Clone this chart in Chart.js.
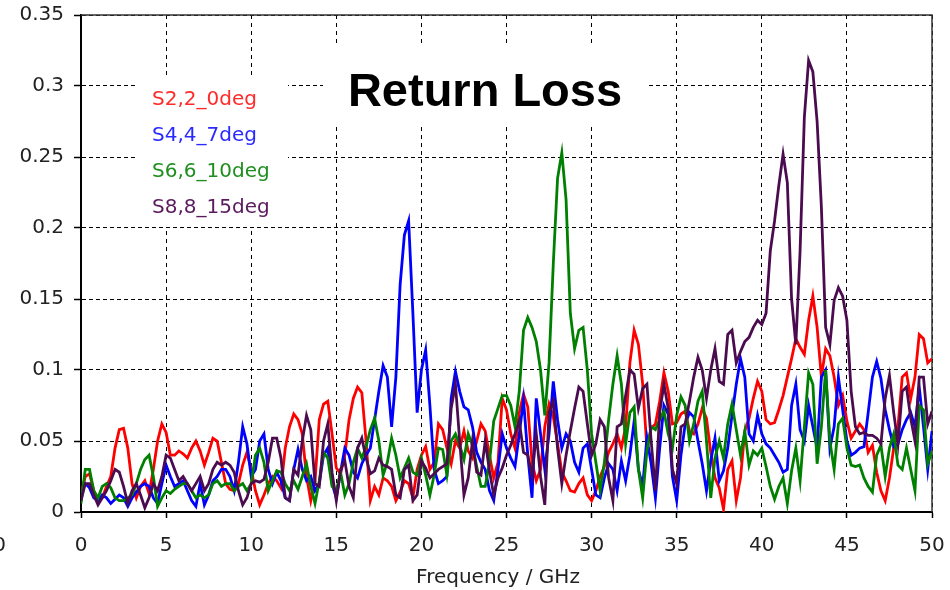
<!DOCTYPE html>
<html>
<head>
<meta charset="utf-8">
<script src="https://cdn.jsdelivr.net/npm/chart.js@4"></script>
<style>
  html, body { margin: 0; padding: 0; background: #ffffff; }
  #wrap { width: 950px; height: 590px; position: relative; }
</style>
</head>
<body>
<div id="wrap"><canvas id="c" width="950" height="590"></canvas></div>
<script>
// ---- data (frequency in GHz, step 0.25) ----
const freqStart = 0, freqStep = 0.25;
const yTickLabels = ["0", "0.05", "0.1", "0.15", "0.2", "0.25", "0.3", "0.35"];
const xTickLabels = ["0", "5", "10", "15", "20", "25", "30", "35", "40", "45", "50"];
const seriesNames = ["S2,2_0deg", "S4,4_7deg", "S6,6_10deg", "S8,8_15deg"];
const chartTitle = "Return Loss";
const xAxisTitle = "Frequency / GHz";

const s22 = [
0.012,0.025,0.027,0.015,0.008,0.010,0.018,0.025,0.045,0.058,0.059,0.045,0.020,0.010,0.018,0.022,
0.013,0.030,0.050,0.062,0.056,0.040,0.040,0.043,0.041,0.038,0.045,0.050,0.043,0.033,0.042,0.052,
0.050,0.035,0.020,0.016,0.015,0.020,0.033,0.042,0.030,0.015,0.005,0.012,0.020,0.025,0.022,0.017,
0.045,0.060,0.069,0.065,0.055,0.025,0.008,0.022,0.065,0.076,0.078,0.055,0.031,0.027,0.040,0.065,
0.080,0.088,0.084,0.050,0.008,0.018,0.012,0.024,0.022,0.018,0.008,0.014,0.022,0.020,0.010,0.030,
0.040,0.046,0.030,0.035,0.062,0.058,0.045,0.034,0.050,0.045,0.057,0.043,0.038,0.050,0.062,0.057,
0.040,0.024,0.035,0.080,0.072,0.055,0.045,0.070,0.083,0.074,0.035,0.022,0.030,0.060,0.076,0.067,
0.048,0.028,0.022,0.015,0.014,0.020,0.024,0.012,0.008,0.015,0.025,0.032,0.042,0.048,0.055,0.045,
0.060,0.105,0.128,0.118,0.090,0.045,0.059,0.062,0.078,0.098,0.085,0.062,0.063,0.069,0.071,0.057,
0.055,0.062,0.073,0.066,0.042,0.024,0.017,0.002,0.030,0.036,0.008,0.024,0.057,0.066,0.080,0.092,
0.085,0.065,0.062,0.063,0.072,0.082,0.095,0.108,0.122,0.116,0.111,0.135,0.152,0.130,0.095,0.115,
0.110,0.095,0.075,0.082,0.064,0.052,0.057,0.062,0.058,0.042,0.047,0.028,0.015,0.008,0.024,0.045,
0.060,0.095,0.098,0.080,0.095,0.125,0.122,0.105,0.108
];
const s44 = [
0.012,0.020,0.017,0.010,0.008,0.012,0.010,0.006,0.009,0.012,0.010,0.004,0.010,0.014,0.018,0.020,
0.018,0.010,0.006,0.020,0.033,0.025,0.018,0.020,0.022,0.015,0.008,0.004,0.020,0.005,0.012,0.022,
0.025,0.030,0.030,0.025,0.015,0.035,0.060,0.048,0.025,0.030,0.050,0.055,0.030,0.020,0.028,0.022,
0.010,0.008,0.030,0.044,0.030,0.022,0.025,0.015,0.020,0.040,0.045,0.020,0.010,0.028,0.045,0.040,
0.028,0.024,0.034,0.040,0.045,0.065,0.085,0.103,0.095,0.060,0.095,0.160,0.195,0.205,0.140,0.070,
0.100,0.114,0.075,0.030,0.020,0.022,0.025,0.080,0.099,0.085,0.074,0.072,0.060,0.042,0.035,0.030,
0.015,0.008,0.030,0.055,0.045,0.038,0.032,0.055,0.079,0.040,0.010,0.080,0.055,0.030,0.055,0.092,
0.065,0.045,0.055,0.050,0.035,0.028,0.045,0.048,0.030,0.012,0.010,0.024,0.034,0.030,0.015,0.036,
0.022,0.040,0.064,0.030,0.018,0.052,0.034,0.010,0.045,0.075,0.069,0.025,0.008,0.040,0.062,0.070,
0.067,0.050,0.034,0.015,0.036,0.052,0.022,0.029,0.045,0.068,0.090,0.108,0.095,0.055,0.050,0.068,
0.055,0.048,0.045,0.040,0.035,0.028,0.030,0.075,0.090,0.058,0.050,0.075,0.060,0.045,0.095,0.100,
0.045,0.060,0.095,0.072,0.050,0.040,0.042,0.045,0.046,0.070,0.095,0.106,0.094,0.072,0.058,0.046,
0.048,0.058,0.065,0.070,0.060,0.088,0.060,0.030,0.057
];
const s66 = [
0.006,0.030,0.030,0.015,0.010,0.018,0.020,0.017,0.010,0.008,0.008,0.010,0.012,0.020,0.030,0.037,
0.040,0.025,0.004,0.010,0.015,0.013,0.016,0.018,0.020,0.020,0.015,0.010,0.012,0.010,0.012,0.020,
0.022,0.018,0.020,0.020,0.015,0.018,0.020,0.015,0.020,0.040,0.045,0.035,0.015,0.022,0.029,0.028,
0.020,0.015,0.022,0.016,0.025,0.034,0.018,0.006,0.022,0.042,0.038,0.018,0.015,0.028,0.012,0.020,
0.035,0.045,0.038,0.046,0.058,0.066,0.050,0.026,0.035,0.052,0.040,0.024,0.031,0.038,0.028,0.026,
0.038,0.026,0.012,0.026,0.045,0.044,0.026,0.050,0.055,0.047,0.037,0.055,0.047,0.032,0.018,0.018,
0.035,0.064,0.073,0.082,0.082,0.075,0.060,0.085,0.128,0.137,0.130,0.120,0.100,0.068,0.105,0.175,
0.235,0.253,0.220,0.140,0.115,0.128,0.130,0.100,0.055,0.035,0.015,0.035,0.065,0.090,0.110,0.090,
0.048,0.070,0.074,0.030,0.010,0.043,0.060,0.058,0.065,0.071,0.055,0.045,0.068,0.081,0.075,0.050,
0.062,0.078,0.085,0.050,0.010,0.038,0.050,0.038,0.062,0.076,0.058,0.040,0.057,0.033,0.043,0.040,
0.045,0.032,0.018,0.009,0.018,0.024,0.006,0.029,0.045,0.022,0.060,0.098,0.090,0.034,0.060,0.100,
0.050,0.030,0.062,0.066,0.045,0.033,0.032,0.033,0.024,0.018,0.014,0.040,0.047,0.025,0.045,0.055,
0.033,0.030,0.045,0.030,0.015,0.075,0.072,0.034,0.043
];
const s88 = [
0.008,0.020,0.020,0.012,0.005,0.010,0.015,0.022,0.030,0.028,0.018,0.006,0.015,0.020,0.012,0.003,
0.010,0.020,0.015,0.025,0.040,0.038,0.030,0.022,0.025,0.020,0.015,0.020,0.025,0.015,0.020,0.030,
0.035,0.033,0.035,0.033,0.028,0.015,0.005,0.010,0.020,0.022,0.021,0.023,0.035,0.052,0.052,0.038,
0.010,0.008,0.030,0.026,0.050,0.068,0.058,0.020,0.018,0.050,0.062,0.028,0.008,0.030,0.036,0.018,
0.010,0.045,0.052,0.038,0.027,0.029,0.038,0.033,0.032,0.030,0.012,0.010,0.030,0.033,0.008,0.012,
0.036,0.031,0.024,0.027,0.030,0.032,0.034,0.073,0.090,0.050,0.012,0.024,0.050,0.028,0.026,0.050,
0.029,0.012,0.024,0.031,0.040,0.047,0.055,0.064,0.042,0.040,0.026,0.055,0.025,0.005,0.070,0.078,
0.045,0.020,0.040,0.057,0.073,0.088,0.085,0.062,0.040,0.048,0.065,0.060,0.024,0.008,0.060,0.062,
0.082,0.100,0.097,0.073,0.087,0.090,0.050,0.015,0.070,0.090,0.073,0.030,0.020,0.060,0.062,0.078,
0.095,0.109,0.100,0.080,0.100,0.115,0.092,0.090,0.125,0.128,0.105,0.113,0.120,0.123,0.130,0.135,
0.132,0.140,0.184,0.205,0.230,0.252,0.232,0.150,0.118,0.184,0.278,0.318,0.310,0.275,0.215,0.130,
0.118,0.149,0.158,0.152,0.135,0.085,0.060,0.055,0.056,0.054,0.054,0.052,0.048,0.080,0.096,0.070,
0.048,0.085,0.088,0.066,0.050,0.095,0.095,0.062,0.071
];

const seriesValues = [s22, s44, s66, s88];
const lineColors = ["#ff0000", "#0000ff", "#008000", "#4b0b4f"];
const textColors = ["#ff2a2a", "#2a2aff", "#1f8f1f", "#5a1a5e"];

const toPoints = arr => arr.map((v, i) => ({ x: freqStart + i * freqStep, y: v }));

const decorPlugin = {
  id: 'decor',
  beforeDatasetsDraw(chart) {
    const { ctx, chartArea: a } = chart;
    ctx.save();
    // white boxes behind title and legend
    ctx.fillStyle = '#ffffff';
    ctx.fillRect(323, 47, 326, 80);
    ctx.fillRect(138, 77, 150, 150);
    // top and right border
    ctx.strokeStyle = '#333333';
    ctx.lineWidth = 1.5;
    ctx.beginPath();
    ctx.moveTo(a.left, a.top);
    ctx.lineTo(a.right, a.top);
    ctx.lineTo(a.right, a.bottom);
    ctx.stroke();
    ctx.restore();
  },
  afterDraw(chart) {
    const { ctx } = chart;
    ctx.save();
    // title
    ctx.fillStyle = '#000000';
    ctx.font = 'bold 47px "Liberation Sans", Arial, sans-serif';
    ctx.textAlign = 'center';
    ctx.textBaseline = 'alphabetic';
    ctx.fillText(chartTitle, 485, 106);
    // legend
    ctx.font = '20px "DejaVu Sans", sans-serif';
    ctx.textAlign = 'left';
    ctx.textBaseline = 'middle';
    const rows = [100, 136, 172, 208];
    seriesNames.forEach((n, i) => {
      ctx.fillStyle = textColors[i];
      ctx.fillText(n, 152, rows[i]);
    });
    // axis title
    ctx.fillStyle = '#222222';
    ctx.textAlign = 'center';
    ctx.textBaseline = 'middle';
    ctx.fillText(xAxisTitle, 498, 578);
    // stray clipped label at left edge
    ctx.textAlign = 'right';
    ctx.fillText('0', 6, 546);
    ctx.restore();
  }
};

new Chart(document.getElementById('c'), {
  type: 'line',
  data: {
    datasets: seriesValues.map((vals, i) => ({
      label: seriesNames[i],
      data: toPoints(vals),
      borderColor: lineColors[i],
      backgroundColor: lineColors[i],
      borderWidth: 2.8,
      pointRadius: 0,
      tension: 0,
      fill: false,
      order: 4 - i
    }))
  },
  options: {
    responsive: false,
    animation: false,
    events: [],
    layout: { padding: { top: 15, right: 18, left: 0, bottom: 0 } },
    plugins: { legend: { display: false }, tooltip: { enabled: false }, title: { display: false } },
    scales: {
      x: {
        type: 'linear',
        min: 0, max: 50,
        afterFit(scale) { scale.height = 78; scale.paddingLeft = 0; scale.paddingRight = 0; },
        afterBuildTicks(scale) { scale.ticks = xTickLabels.map(t => ({ value: Number(t) })); },
        ticks: {
          callback: (v, i) => xTickLabels[i],
          font: { family: '"DejaVu Sans", sans-serif', size: 20 },
          color: '#222222',
          padding: 16,
          maxRotation: 0
        },
        grid: { color: '#000000', lineWidth: 1, tickLength: 6, tickBorderDash: [], tickColor: '#000000', tickWidth: 1.5 },
        border: { display: true, color: '#000000', width: 2, dash: [4, 4] }
      },
      y: {
        type: 'linear',
        min: 0, max: 0.35,
        afterFit(scale) { scale.width = 81; scale.paddingTop = 0; scale.paddingBottom = 0; },
        afterBuildTicks(scale) { scale.ticks = yTickLabels.map(t => ({ value: Number(t) })); },
        ticks: {
          callback: (v, i) => yTickLabels[i],
          font: { family: '"DejaVu Sans", sans-serif', size: 20 },
          color: '#222222',
          padding: 10
        },
        grid: { color: '#000000', lineWidth: 1, tickLength: 7, tickBorderDash: [], tickColor: '#000000', tickWidth: 1.5 },
        border: { display: true, color: '#000000', width: 2, dash: [4, 3] }
      }
    }
  },
  plugins: [decorPlugin]
});
</script>
</body>
</html>
